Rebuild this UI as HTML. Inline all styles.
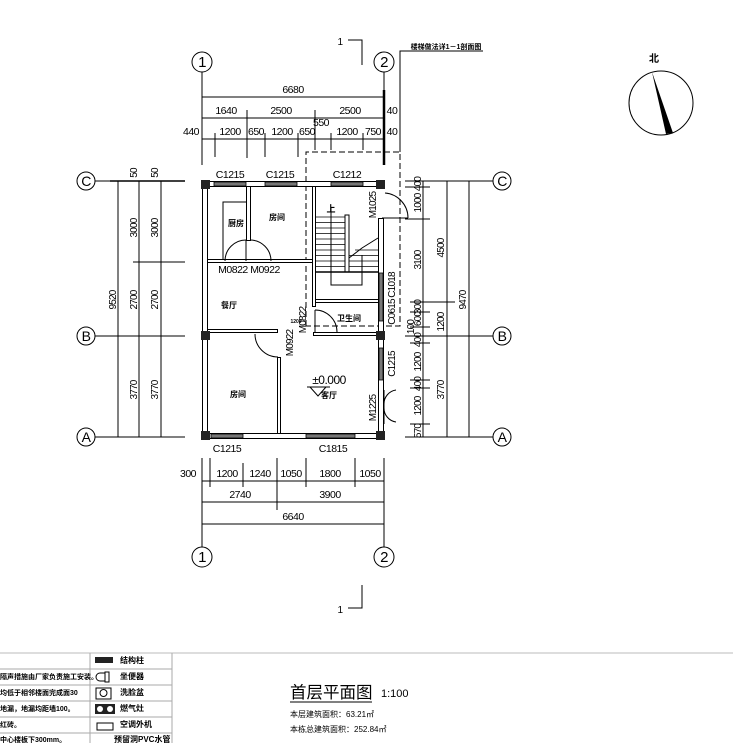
<!DOCTYPE html>
<html><head><meta charset="utf-8"><style>
html,body{margin:0;padding:0;background:#fff;width:733px;height:743px;overflow:hidden}
svg{display:block}
text{font-family:"Liberation Sans","Noto Sans CJK SC",sans-serif;fill:#000}
.d{font-size:10.5px;letter-spacing:-0.5px}
.r{font-size:10px;letter-spacing:-0.8px}
</style></head><body>
<svg width="733" height="743" viewBox="0 0 733 743" xmlns="http://www.w3.org/2000/svg">
<g stroke="#000" stroke-width="1" fill="none">
<circle cx="202" cy="62" r="10"/><circle cx="384" cy="62" r="10"/>
<circle cx="202" cy="557" r="10"/><circle cx="384" cy="557" r="10"/>
<circle cx="86" cy="181" r="9"/><circle cx="86" cy="336" r="9"/><circle cx="86" cy="437" r="9"/>
<circle cx="502" cy="181" r="9"/><circle cx="502" cy="336" r="9"/><circle cx="502" cy="437" r="9"/>
<line x1="202" y1="72" x2="202" y2="165"/><line x1="384" y1="72" x2="384" y2="165"/>
<line x1="202" y1="458" x2="202" y2="547"/><line x1="384" y1="458" x2="384" y2="547"/>
<line x1="95" y1="181" x2="185" y2="181"/><line x1="95" y1="336" x2="185" y2="336"/><line x1="95" y1="437" x2="185" y2="437"/>
<line x1="405" y1="181" x2="493" y2="181"/><line x1="405" y1="336" x2="493" y2="336"/><line x1="405" y1="437" x2="493" y2="437"/>
<line x1="384" y1="90" x2="384" y2="165" stroke-width="2.5"/>
<line x1="202" y1="97" x2="384" y2="97"/>
<line x1="202" y1="118" x2="384" y2="118"/>
<line x1="202" y1="139" x2="384" y2="139"/>
<line x1="215" y1="133" x2="215" y2="157"/><line x1="247" y1="110" x2="247" y2="158"/><line x1="265" y1="133" x2="265" y2="157"/>
<line x1="298" y1="133" x2="298" y2="157"/><line x1="315" y1="110" x2="315" y2="150"/><line x1="331" y1="133" x2="331" y2="150"/><line x1="363" y1="133" x2="363" y2="150"/>
<polyline points="348,40 362,40 362,65"/>
<polyline points="348,608 362,608 362,585"/>
<polyline points="400,152 400,51 483,51"/>
<polyline points="306,326 306,152 400,152 400,326 306,326" stroke-dasharray="6,3"/>
<line x1="118" y1="181" x2="118" y2="437"/><line x1="139" y1="181" x2="139" y2="437"/><line x1="161" y1="181" x2="161" y2="437"/>
<line x1="133" y1="262" x2="185" y2="262"/>
<line x1="110" y1="181" x2="185" y2="181" stroke-width="1.5"/>
<line x1="423" y1="181" x2="423" y2="437"/><line x1="447" y1="181" x2="447" y2="437"/><line x1="469" y1="181" x2="469" y2="437"/>
<g>
<line x1="405" y1="187" x2="430" y2="187"/><line x1="405" y1="219" x2="430" y2="219"/><line x1="410" y1="302" x2="455" y2="302"/>
<line x1="410" y1="312" x2="430" y2="312"/><line x1="410" y1="327" x2="430" y2="327"/><line x1="410" y1="343" x2="430" y2="343"/>
<line x1="410" y1="380" x2="430" y2="380"/><line x1="410" y1="388" x2="430" y2="388"/><line x1="410" y1="424" x2="430" y2="424"/>
</g>
<line x1="202" y1="481" x2="384" y2="481"/><line x1="202" y1="502" x2="384" y2="502"/><line x1="202" y1="524" x2="384" y2="524"/>
<line x1="210" y1="458" x2="210" y2="487"/><line x1="243" y1="463" x2="243" y2="487"/><line x1="277" y1="458" x2="277" y2="510"/>
<line x1="306" y1="458" x2="306" y2="487"/><line x1="355" y1="458" x2="355" y2="487"/>
</g>
<g stroke="#000" stroke-width="1" fill="#fff">
<rect x="202.5" y="181.5" width="181" height="5"/>
<rect x="202.5" y="433.5" width="181" height="5"/>
<rect x="202.5" y="181.5" width="5" height="257"/>
<rect x="378.5" y="218.5" width="5" height="220"/>
<rect x="246.5" y="186.5" width="4" height="54"/>
<rect x="207.5" y="259.5" width="105" height="3"/>
<rect x="312.5" y="186.5" width="3" height="120"/>
<rect x="315.5" y="299.5" width="63" height="3"/>
<rect x="207.5" y="329.5" width="70" height="3"/>
<rect x="313.5" y="332.5" width="65" height="3"/>
<rect x="277.5" y="357.5" width="3" height="76"/>
</g>
<g fill="#777" stroke="#000" stroke-width="0.8">
<rect x="214" y="182" width="32" height="4"/><rect x="265" y="182" width="32" height="4"/><rect x="331" y="182" width="32" height="4"/>
<rect x="211" y="434" width="32" height="4"/><rect x="306" y="434" width="49" height="4"/>
<rect x="379" y="273" width="4" height="48"/><rect x="379" y="348" width="4" height="32"/>
</g>
<g fill="#222">
<rect x="201" y="180" width="9" height="9"/><rect x="376" y="180" width="9" height="9"/>
<rect x="201" y="331" width="9" height="9"/><rect x="376" y="331" width="9" height="9"/>
<rect x="201" y="431" width="9" height="9"/><rect x="376" y="431" width="9" height="9"/>
</g>
<g stroke="#000" stroke-width="1" fill="none">
<polyline points="223,259 223,202 246,202"/>
<path d="M246,240 A21,21 0 0 0 225,261"/><line x1="246" y1="240" x2="246" y2="261"/>
<path d="M250,240 A21,21 0 0 1 271,261"/>
<path d="M255,334 A23,23 0 0 0 278,357"/>
<path d="M315,310 A22,22 0 0 1 337,332"/><line x1="315" y1="310" x2="315" y2="332"/>
<path d="M385,193 A25,25 0 0 1 408,218"/><line x1="382" y1="218" x2="408" y2="218"/>
<path d="M384,404 A14,14 0 0 1 396,390"/><path d="M384,408 A14,14 0 0 0 396,422"/>
<line x1="384" y1="390" x2="384" y2="424"/>
<rect x="345" y="215" width="4" height="57" fill="#fff"/>
<line x1="316" y1="272" x2="378" y2="272" stroke-width="1.5"/>
<g stroke-width="0.8">
<line x1="316" y1="217" x2="345" y2="217"/><line x1="316" y1="222.5" x2="345" y2="222.5"/><line x1="316" y1="228" x2="345" y2="228"/>
<line x1="316" y1="233.5" x2="345" y2="233.5"/><line x1="316" y1="239" x2="345" y2="239"/><line x1="316" y1="244.5" x2="345" y2="244.5"/>
<line x1="316" y1="250" x2="345" y2="250"/><line x1="316" y1="255.5" x2="345" y2="255.5"/><line x1="316" y1="261" x2="345" y2="261"/>
<line x1="316" y1="266.5" x2="345" y2="266.5"/>
<line x1="355" y1="250" x2="378" y2="250"/><line x1="349" y1="255.5" x2="378" y2="255.5"/><line x1="349" y1="261" x2="378" y2="261"/><line x1="349" y1="266.5" x2="378" y2="266.5"/>
</g>
<polyline points="349,258 362,248 378,238"/>
<polyline points="331,208 331,285 362,285 362,255"/>
<polyline points="307,387 330,387" /><polyline points="310,387 318,396 326,387"/>
<circle cx="661" cy="103" r="32"/>
<line x1="0" y1="653" x2="733" y2="653" stroke="#bbb"/>
<line x1="90" y1="653" x2="90" y2="743" stroke="#aaa"/>
<line x1="172" y1="653" x2="172" y2="743" stroke="#aaa"/>
<line x1="0" y1="669" x2="172" y2="669" stroke="#aaa"/><line x1="0" y1="685" x2="172" y2="685" stroke="#aaa"/>
<line x1="0" y1="701" x2="172" y2="701" stroke="#aaa"/><line x1="0" y1="717" x2="172" y2="717" stroke="#aaa"/>
<line x1="0" y1="733" x2="172" y2="733" stroke="#aaa"/>
<path d="M100,673 H105 V681 H100 A4,4 0 0 1 100,673 Z"/><rect x="105" y="672" width="4" height="10"/>
<rect x="96" y="688" width="15" height="11"/><circle cx="103.5" cy="693" r="3.5"/>
<rect x="97" y="723" width="16" height="7"/>
<line x1="290" y1="702" x2="372" y2="702"/>
</g>
<path d="M652,72 L673,133 L666,134 Z" fill="#000"/>
<rect x="95" y="657" width="18" height="6" fill="#222"/>
<rect x="95" y="704" width="20" height="10" fill="#222"/>
<circle cx="100" cy="709" r="3" fill="#fff"/><circle cx="110" cy="709" r="3" fill="#fff"/>

<g text-anchor="middle" class="d">
<text x="202" y="67" font-size="15">1</text><text x="384" y="67" font-size="15">2</text>
<text x="202" y="562" font-size="15">1</text><text x="384" y="562" font-size="15">2</text>
<text x="86" y="186" font-family="Liberation Serif" font-size="14">C</text><text x="86" y="341" font-family="Liberation Serif" font-size="14">B</text><text x="86" y="442" font-family="Liberation Serif" font-size="14">A</text>
<text x="502" y="186" font-family="Liberation Serif" font-size="14">C</text><text x="502" y="341" font-family="Liberation Serif" font-size="14">B</text><text x="502" y="442" font-family="Liberation Serif" font-size="14">A</text>
<text x="293" y="93">6680</text>
<text x="226" y="114">1640</text><text x="281" y="114">2500</text><text x="350" y="114">2500</text><text x="392" y="114">40</text>
<text x="191" y="135">440</text><text x="230" y="135">1200</text><text x="256" y="135">650</text><text x="282" y="135">1200</text><text x="307" y="135">650</text>
<text x="321" y="126">550</text><text x="347" y="135">1200</text><text x="373" y="135">750</text><text x="392" y="135">40</text>
<text x="340" y="45" font-size="10">1</text><text x="340" y="613" font-size="10">1</text>
<text x="230" y="178">C1215</text><text x="280" y="178">C1215</text><text x="347" y="178">C1212</text>
<text x="227" y="452">C1215</text><text x="333" y="452">C1815</text>
<text x="188" y="477">300</text><text x="227" y="477">1200</text><text x="260" y="477">1240</text><text x="291" y="477">1050</text><text x="330" y="477">1800</text><text x="370" y="477">1050</text>
<text x="240" y="498">2740</text><text x="330" y="498">3900</text><text x="293" y="520">6640</text>
<text x="249" y="273">M0822 M0922</text>
<text x="329" y="384" font-size="12">±0.000</text>
</g>
<g text-anchor="middle" class="r">
<text transform="translate(116,300) rotate(-90)">9520</text>
<text transform="translate(137,228) rotate(-90)">3000</text><text transform="translate(158,228) rotate(-90)">3000</text>
<text transform="translate(137,300) rotate(-90)">2700</text><text transform="translate(158,300) rotate(-90)">2700</text>
<text transform="translate(137,390) rotate(-90)">3770</text><text transform="translate(158,390) rotate(-90)">3770</text>
<text transform="translate(137,173) rotate(-90)">50</text><text transform="translate(158,173) rotate(-90)">50</text>
<text transform="translate(421,184) rotate(-90)">400</text><text transform="translate(421,203) rotate(-90)">1000</text>
<text transform="translate(421,260) rotate(-90)">3100</text><text transform="translate(421,307) rotate(-90)">300</text>
<text transform="translate(421,319) rotate(-90)">600</text><text transform="translate(414,327) rotate(-90)">100</text>
<text transform="translate(421,340) rotate(-90)">400</text><text transform="translate(421,362) rotate(-90)">1200</text>
<text transform="translate(421,384) rotate(-90)">400</text><text transform="translate(421,406) rotate(-90)">1200</text>
<text transform="translate(421,431) rotate(-90)">570</text>
<text transform="translate(444,248) rotate(-90)">4500</text><text transform="translate(444,322) rotate(-90)">1200</text>
<text transform="translate(444,390) rotate(-90)">3770</text><text transform="translate(466,300) rotate(-90)">9470</text>
<text transform="translate(376,205) rotate(-90)">M1025</text>
<text transform="translate(395,285) rotate(-90)">C1018</text><text transform="translate(395,312) rotate(-90)">C0615</text>
<text transform="translate(395,364) rotate(-90)">C1215</text><text transform="translate(376,408) rotate(-90)">M1225</text>
<text transform="translate(293,343) rotate(-90)">M0922</text><text transform="translate(306,320) rotate(-90)">M0822</text>
</g>
<g font-size="8" font-weight="bold" text-anchor="middle">
<text x="236" y="226">厨房</text><text x="277" y="220">房间</text><text x="229" y="308">餐厅</text>
<text x="349" y="321">卫生间</text><text x="238" y="397">房间</text><text x="329" y="398">客厅</text>
<text x="331" y="212" font-size="9">上</text>
<text x="446" y="49" font-size="7">楼梯做法详1－1剖面图</text>
<text x="654" y="62" font-size="10">北</text>
<text x="296" y="323" font-size="5">1200</text>
</g>
<g font-size="8" font-weight="bold">
<text x="120" y="663">结构柱</text><text x="120" y="679">坐便器</text><text x="120" y="695">洗脸盆</text>
<text x="120" y="711">燃气灶</text><text x="120" y="727">空调外机</text><text x="114" y="742">预留洞PVC水管</text>
</g>
<g font-size="7" font-weight="bold">
<text x="0" y="679">隔声措施由厂家负责施工安装。</text><text x="0" y="695">均低于相邻楼面完成面30</text>
<text x="0" y="711">地漏，地漏均距墙100。</text><text x="0" y="727">红砖。</text><text x="0" y="742">中心楼板下300mm。</text>
</g>
<text x="290" y="698" font-size="16.5" font-family="'Noto Sans CJK SC',sans-serif">首层平面图</text>
<text x="381" y="697" font-size="11">1:100</text>
<text x="290" y="717" font-size="8">本层建筑面积：63.21㎡</text>
<text x="290" y="732" font-size="8">本栋总建筑面积：252.84㎡</text>
</svg>
</body></html>
